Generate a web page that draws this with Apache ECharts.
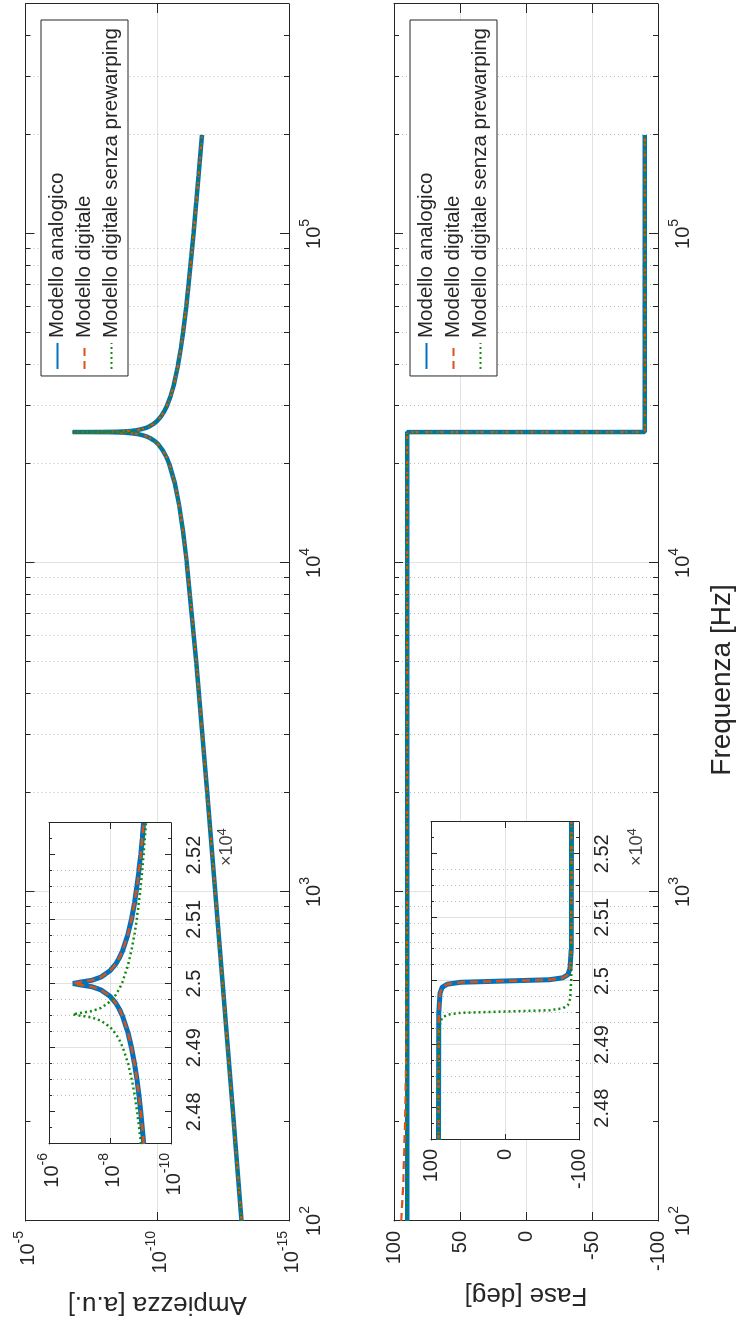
<!DOCTYPE html>
<html><head><meta charset="utf-8">
<script src="https://cdn.jsdelivr.net/npm/echarts@6/dist/echarts.min.js"></script>
<style>
html,body{margin:0;padding:0;background:#fff;overflow:hidden;width:742px;height:1321px;}
#wrap{position:absolute;left:0;top:0;width:1321px;height:742px;transform-origin:0 0;transform:translateY(1321px) rotate(-90deg);}
</style></head><body><div id="wrap"></div>
<script>
// ---------------- data ----------------
const seriesNames = ['Modello analogico', 'Modello digitale', 'Modello digitale senza prewarping'];

// main amplitude plot
const freqMain = [100,200,500,1000,2000,5000,10000,12500,15000,17500,20000,21000,22000,23000,23500,24000,24250,24500,24650,24700,24800,24850,24900,24950,24980,24995,25000,25005,25020,25050,25100,25150,25200,25300,25350,25500,25750,26000,26500,27000,28000,29000,30000,32000,35000,40000,45000,50000,60000,70000,85000,100000,125000,150000,200000];
const ampAnalog = [6.31e-14,1.262e-13,3.155e-13,6.32e-13,1.271e-12,3.29e-12,7.52e-12,1.052e-11,1.479e-11,2.165e-11,3.51e-11,4.50e-11,6.15e-11,9.44e-11,1.274e-10,1.932e-10,2.59e-10,3.91e-10,5.59e-10,6.53e-10,9.82e-10,1.311e-9,1.968e-9,3.94e-9,9.86e-9,3.94e-8,1.65e-7,3.94e-8,9.86e-9,3.94e-9,1.977e-9,1.318e-9,9.90e-10,6.61e-10,5.67e-10,3.98e-10,2.67e-10,2.01e-10,1.353e-10,1.023e-10,6.95e-11,5.30e-11,4.31e-11,3.16e-11,2.30e-11,1.618e-11,1.268e-11,1.052e-11,7.95e-12,6.46e-12,5.08e-12,4.21e-12,3.29e-12,2.70e-12,2.00e-12];
const ampDigital = ampAnalog;
const ampNoPrewarp = ampAnalog;

// main phase plot
const freqPhase = [100,130,200,300,500,1000,10000,24990,24998,25000,25002,25010,100000,200000];
const phaseAnalog = [90,90,90,90,90,90,90,90,60,0,-60,-90,-90,-90];
const phaseDigital = [94.5,93,91.6,90.9,90.4,90.1,90,90,60,0,-60,-90,-90,-90];
const freqPhaseNP = [100,1000,10000,24942,24950,24952,24954,24962,100000,200000];
const phaseNoPrewarp = [90,90,90,90,60,0,-60,-90,-90,-90];

// inset: amplitude around resonance
const freqInsA = [24750,24775,24800,24825,24850,24875,24900,24925,24950,24960,24970,24980,24990,24995,24998,25000,25002,25005,25010,25020,25030,25040,25050,25075,25100,25125,25150,25175,25200,25225,25250];
const ampInsAnalog = [7.85e-10,8.73e-10,9.82e-10,1.122e-9,1.312e-9,1.574e-9,1.968e-9,2.624e-9,3.94e-9,4.93e-9,6.58e-9,9.86e-9,1.972e-8,3.94e-8,9.86e-8,1.65e-7,9.86e-8,3.94e-8,1.972e-8,9.86e-9,6.58e-9,4.93e-9,3.94e-9,2.636e-9,1.977e-9,1.581e-9,1.318e-9,1.132e-9,9.91e-10,8.81e-10,7.93e-10];
const ampInsDigital = ampInsAnalog;
const freqInsNP = [24750,24775,24800,24825,24850,24875,24900,24912,24922,24932,24942,24947,24950,24952,24954,24957,24962,24972,24982,24992,25002,25027,25052,25077,25102,25127,25152,25177,25202,25227,25250];
const ampInsNoPrewarp = [9.68e-10,1.104e-9,1.288e-9,1.542e-9,1.919e-9,2.547e-9,3.767e-9,4.90e-9,6.55e-9,9.82e-9,1.963e-8,3.93e-8,9.82e-8,1.65e-7,9.82e-8,3.93e-8,1.963e-8,9.82e-9,6.55e-9,4.91e-9,3.93e-9,2.624e-9,1.968e-9,1.574e-9,1.312e-9,1.125e-9,9.86e-10,8.77e-10,7.89e-10,7.18e-10,6.64e-10];

// inset: phase around resonance
const freqInsP = [24750,24950,24980,24990,24995,24998,25000,25002,25005,25010,25020,25050,25250];
const phaseInsAnalog = [90,89.5,88,85,78,60,0,-60,-78,-85,-88,-89.5,-90];
const phaseInsDigital = phaseInsAnalog;
const freqInsPNP = [24750,24902,24932,24942,24947,24950,24952,24954,24957,24962,24972,25002,25250];
const phaseInsNoPrewarp = [90,89.5,88,85,78,60,0,-60,-78,-85,-88,-89.5,-90];

// ticks
const freqMajorTicks = [100,1000,10000,100000];
const freqMinorTicks = [200,300,400,500,600,700,800,900,2000,3000,4000,5000,6000,7000,8000,9000,20000,30000,40000,50000,60000,70000,80000,90000,200000,300000,400000];
const ampTicks = [1e-15,1e-10,1e-5];
const insFreqTicks = [24800,24900,25000,25100,25200];
const insFreqMinorTicks = [24775,24825,24850,24875,24925,24950,24975,25025,25050,25075,25125,25150,25175,25225];
const insAmpTicks = [1e-10,1e-8,1e-6];

// ---------------- styles ----------------
const FONT = 'Liberation Sans, Arial, Helvetica, sans-serif';
const AX = '#262626';
const GRIDC = '#e2e2e2';
const MINC = '#bdbdbd';
const C_BLUE = '#0072BD', C_ORANGE = '#D95319', C_GREEN = '#0f8a0f';

function powLabel(v){ const e = Math.round(Math.log10(v)); return '{b|10}{s|' + e + '}'; }
const richPow = {
  b: {fontSize: 20, lineHeight: 26, verticalAlign: 'bottom', color: AX, fontFamily: FONT},
  s: {fontSize: 14, lineHeight: 26, verticalAlign: 'top', color: AX, fontFamily: FONT}
};

const xAxes = [], yAxes = [];
function axisBase(kind, o){
  const a = {
    type: o.type, gridIndex: o.grid, min: o.min, max: o.max, position: o.position, z: o.z || 0,
    axisLine: {show: o.line !== false, onZero: false, lineStyle: {color: AX, width: 1}},
    axisTick: {show: true, inside: true, length: o.tickLen || 9, lineStyle: {color: AX, width: 1}},
    axisLabel: {show: !!o.labels},
    splitLine: {show: !!o.split, showMinLine: false, showMaxLine: false, lineStyle: o.split || {}},
    minorTick: {show: false}, minorSplitLine: {show: false},
    silent: true, animation: false
  };
  if (o.type === 'log') a.logBase = 10;
  if (o.ticks) a.axisTick.customValues = o.ticks;
  if (o.interval) a.interval = o.interval;
  if (o.labels) {
    a.axisLabel = Object.assign({show: true, color: AX, fontFamily: FONT, fontSize: 20, margin: o.margin || 10, showMinLabel: true, showMaxLabel: true, hideOverlap: false}, o.labels);
    if (o.ticks && !o.interval) a.axisLabel.customValues = o.labelValues || o.ticks;
  }
  if (o.name) {
    a.name = o.name; a.nameLocation = 'middle'; a.nameGap = o.nameGap;
    a.nameTextStyle = {color: AX, fontFamily: FONT, fontSize: 26};
    a.nameMoveOverlap = false;
  }
  (kind === 'x' ? xAxes : yAxes).push(a);
  return (kind === 'x' ? xAxes : yAxes).length - 1;
}
const solidGrid = {color: GRIDC, width: 1, type: 'solid'};
const dotGrid = {color: MINC, width: 1, type: [1, 3]};

// ---- grid 0: main amplitude
const gx0 = axisBase('x', {grid:0, type:'log', min:100, max:500000, position:'bottom', ticks:freqMajorTicks, labels:{formatter: powLabel, rich: richPow}, margin: 9, split: solidGrid});
axisBase('x', {grid:0, type:'log', min:100, max:500000, position:'top', ticks:freqMajorTicks});
axisBase('x', {grid:0, type:'log', min:100, max:500000, position:'bottom', ticks:freqMinorTicks, tickLen:5, line:false, split: dotGrid});
axisBase('x', {grid:0, type:'log', min:100, max:500000, position:'top', ticks:freqMinorTicks, tickLen:5, line:false});
const gy0 = axisBase('y', {grid:0, type:'log', min:1e-15, max:1e-5, position:'left', ticks:ampTicks, labels:{formatter: powLabel, rich: richPow}, margin: 10, split: solidGrid, name:'Ampiezza [a.u.]', nameGap: 70});
axisBase('y', {grid:0, type:'log', min:1e-15, max:1e-5, position:'right', ticks:ampTicks});

// ---- grid 1: main phase
const gx1 = axisBase('x', {grid:1, type:'log', min:100, max:500000, position:'bottom', ticks:freqMajorTicks, labels:{formatter: powLabel, rich: richPow}, margin: 9, split: solidGrid});
axisBase('x', {grid:1, type:'log', min:100, max:500000, position:'top', ticks:freqMajorTicks});
axisBase('x', {grid:1, type:'log', min:100, max:500000, position:'bottom', ticks:freqMinorTicks, tickLen:5, line:false, split: dotGrid});
axisBase('x', {grid:1, type:'log', min:100, max:500000, position:'top', ticks:freqMinorTicks, tickLen:5, line:false});
const gy1 = axisBase('y', {grid:1, type:'value', min:-100, max:100, interval:50, position:'left', labels:{}, margin: 10, split: solidGrid, name:'Fase [deg]', nameGap: 61});
axisBase('y', {grid:1, type:'value', min:-100, max:100, interval:50, position:'right'});

// ---- grid 2: inset amplitude
const insLabelX = {formatter: v => String(parseFloat((v/1e4).toFixed(2)))};
const gx2 = axisBase('x', {grid:2, type:'value', min:24750, max:25250, position:'bottom', ticks:insFreqTicks, tickLen:6, labels:insLabelX, margin: 13, split: solidGrid, z: 10});
axisBase('x', {grid:2, type:'value', min:24750, max:25250, position:'top', ticks:insFreqTicks, tickLen:6, z:10});
axisBase('x', {grid:2, type:'value', min:24750, max:25250, position:'bottom', ticks:insFreqMinorTicks, tickLen:3, line:false, split: dotGrid, z:10});
axisBase('x', {grid:2, type:'value', min:24750, max:25250, position:'top', ticks:insFreqMinorTicks, tickLen:3, line:false, z:10});
const gy2 = axisBase('y', {grid:2, type:'log', min:1e-10, max:1e-6, position:'left', ticks:insAmpTicks, tickLen:6, labels:{formatter: powLabel, rich: richPow}, margin: 9, split: solidGrid, z:10});
axisBase('y', {grid:2, type:'log', min:1e-10, max:1e-6, position:'right', ticks:insAmpTicks, tickLen:6, z:10});

// ---- grid 3: inset phase
const gx3 = axisBase('x', {grid:3, type:'value', min:24750, max:25250, position:'bottom', ticks:insFreqTicks, tickLen:6, labels:insLabelX, margin: 13, split: solidGrid, z: 10});
axisBase('x', {grid:3, type:'value', min:24750, max:25250, position:'top', ticks:insFreqTicks, tickLen:6, z:10});
axisBase('x', {grid:3, type:'value', min:24750, max:25250, position:'bottom', ticks:insFreqMinorTicks, tickLen:3, line:false, split: dotGrid, z:10});
axisBase('x', {grid:3, type:'value', min:24750, max:25250, position:'top', ticks:insFreqMinorTicks, tickLen:3, line:false, z:10});
const gy3 = axisBase('y', {grid:3, type:'value', min:-100, max:100, interval:100, position:'left', tickLen:6, labels:{}, margin: 9, split: solidGrid, z:10});
axisBase('y', {grid:3, type:'value', min:-100, max:100, interval:100, position:'right', tickLen:6, z:10});

function pairs(xs, ys){ return xs.map((x, i) => [x, ys[i]]); }
function line(name, xi, yi, data, color, width, type, z){
  return {type:'line', name, xAxisIndex: xi, yAxisIndex: yi, data, showSymbol:false, symbol:'none',
    lineStyle:{color, width, type, cap:'butt'}, itemStyle:{color}, z: z || 2, animation:false, silent:true, clip:true};
}
const DASH = [8, 5], DOT = [2, 3];
const series = [
  line(seriesNames[0], gx0, gy0, pairs(freqMain, ampAnalog), C_BLUE, 4.5, 'solid', 2),
  line(seriesNames[1], gx0, gy0, pairs(freqMain, ampDigital), C_ORANGE, 2.2, DASH, 3),
  line(seriesNames[2], gx0, gy0, pairs(freqMain, ampNoPrewarp), C_GREEN, 2.2, DOT, 4),
  line(seriesNames[0], gx1, gy1, pairs(freqPhase, phaseAnalog), C_BLUE, 4.5, 'solid', 2),
  line(seriesNames[1], gx1, gy1, pairs(freqPhase, phaseDigital), C_ORANGE, 2.2, DASH, 3),
  line(seriesNames[2], gx1, gy1, pairs(freqPhaseNP, phaseNoPrewarp), C_GREEN, 2.2, DOT, 4),
  line(seriesNames[0], gx2, gy2, pairs(freqInsA, ampInsAnalog), C_BLUE, 5, 'solid', 12),
  line(seriesNames[1], gx2, gy2, pairs(freqInsA, ampInsDigital), C_ORANGE, 2.5, DASH, 13),
  line(seriesNames[2], gx2, gy2, pairs(freqInsNP, ampInsNoPrewarp), C_GREEN, 2.5, DOT, 14),
  line(seriesNames[0], gx3, gy3, pairs(freqInsP, phaseInsAnalog), C_BLUE, 5, 'solid', 12),
  line(seriesNames[1], gx3, gy3, pairs(freqInsP, phaseInsDigital), C_ORANGE, 2.5, DASH, 13),
  line(seriesNames[2], gx3, gy3, pairs(freqInsPNP, phaseInsNoPrewarp), C_GREEN, 2.5, DOT, 14)
];

function legendAt(top){
  return {data: seriesNames, orient:'vertical', right: 20, top, selectedMode:false,
    backgroundColor:'#fff', borderColor: AX, borderWidth: 1, padding:[6, 8, 6, 6], itemGap: 6,
    itemWidth: 26, itemHeight: 14, z: 30, itemStyle: {opacity: 0},
    textStyle:{color: AX, fontFamily: FONT, fontSize: 20.5}};
}

const supRich = {s:{fontSize:13, verticalAlign:'top', lineHeight:22, fontFamily:FONT, fill:'#404040'}};
const option = {
  backgroundColor: '#fff',
  animation: false,
  grid: [
    {left:100, right:4, top:25.5, height:263.5, containLabel:false, outerBoundsMode:'none', show:false},
    {left:100, right:4, top:394, height:264, containLabel:false, outerBoundsMode:'none', show:false},
    {left:177, top:49, width:321, height:122, containLabel:false, outerBoundsMode:'none', show:true, backgroundColor:'#fff', borderWidth:0, z:10},
    {left:181, top:431, width:318, height:148, containLabel:false, outerBoundsMode:'none', show:true, backgroundColor:'#fff', borderWidth:0, z:10}
  ],
  xAxis: xAxes,
  yAxis: yAxes,
  legend: [legendAt(41), legendAt(410)],
  graphic: [
    {type:'text', left: 455, top: 216, z: 40, style:{text:'×10{s|4}', rich: supRich, font:'18px ' + FONT, fill:'#404040'}},
    {type:'text', left: 455, top: 626, z: 40, style:{text:'×10{s|4}', rich: supRich, font:'18px ' + FONT, fill:'#404040'}},
    {type:'text', x: 641, y: 722, z: 40, style:{text:'Frequenza [Hz]', font:'28px ' + FONT, fill: AX, align:'center', verticalAlign:'middle'}}
  ],
  series
};
const chart = echarts.init(document.getElementById('wrap'), null, {renderer:'canvas'});
chart.setOption(option);
</script></body></html>
